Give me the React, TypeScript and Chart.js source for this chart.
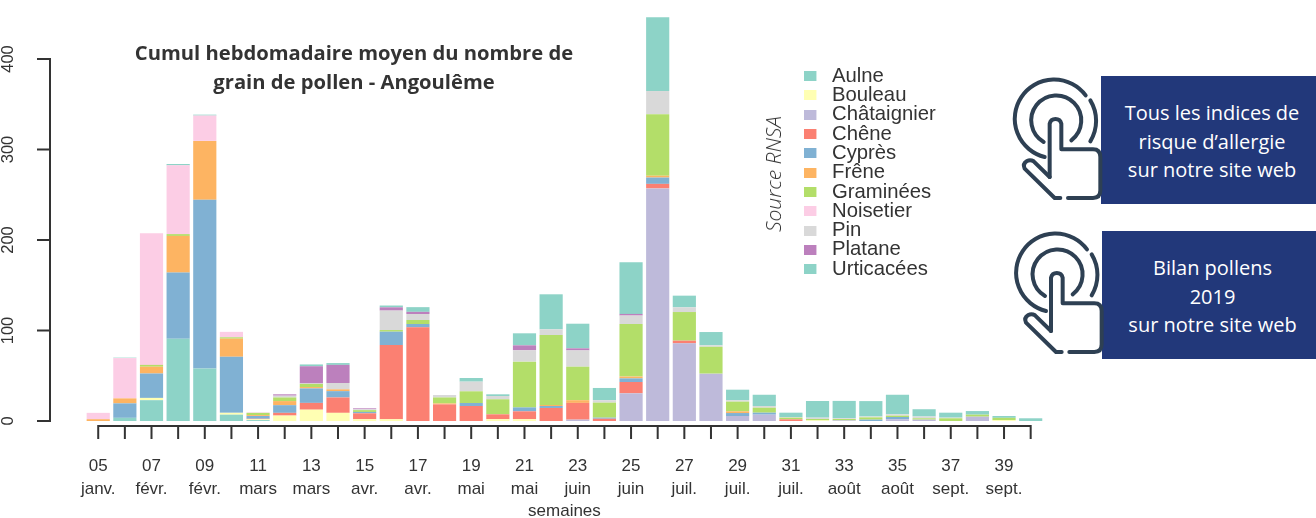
import React, { useEffect, useRef } from "react";
import { Chart, registerables } from "chart.js";

Chart.register(...registerables);

const weeks = ["05","06","07","08","09","10","11","12","13","14","15","16","17","18","19","20","21","22","23","24","25","26","27","28","29","30","31","32","33","34","35","36","37","38","39","40"];
const months = ["janv.","févr.","févr.","févr.","févr.","mars","mars","mars","mars","avr.","avr.","avr.","avr.","mai","mai","mai","mai","juin","juin","juin","juin","juil.","juil.","juil.","juil.","juil.","juil.","août","août","août","août","sept.","sept.","sept.","sept.","oct."];
const yTicks = [0, 100, 200, 300, 400];
const yMax = 446.4;
const chartTitle = ["Cumul hebdomadaire moyen du nombre de", "grain de pollen - Angoulême"];
const sourceText = "Source RNSA";
const xTitle = "semaines";

const aulne =      [0,  3.5, 23, 91, 58, 7,  1, 0,  0,  0, 0, 0,  0,  0, 0, 0, 0, 0, 0, 0, 0,  0,  0,  0,  0, 0, 0, 0, 0, 0, 0, 0, 0, 0, 0, 0];
const bouleau =    [0,  0,  2.5, 0,  0,  2,  1, 6, 12.5, 9, 2, 2,  0,  0, 0, 2, 2, 0, 0, 0, 0,  0,  0,  0,  0, 0, 0, 0.7, 0, 0, 0, 0, 0, 0, 1, 0];
const chataignier =[0,  0,  0,  0,  0,  0,  0, 0,  0,  0, 0, 0,  0,  0, 0, 0, 0, 0, 1.5, 0, 30.6, 257, 85.8, 52.3, 5.5, 7, 0, 0, 0.7, 0, 2, 1.5, 0, 4.8, 0, 0];
const chene =      [0,  0,  0,  0,  0,  0, 0.5, 3, 7.5, 17, 6.5, 82, 103.5, 18.4, 16.6, 5.4, 8.7, 14.4, 18.5, 2.5, 12.5, 5, 3, 0, 0, 0, 1.8, 0, 0, 0, 0, 0, 0, 0, 0, 0];
const cypres =     [0,  16, 27, 73, 186.5, 62, 3, 8.5, 16, 7, 1.5, 14.7, 3.7, 0, 3.3, 0, 4.3, 2.2, 0, 1.2, 4, 7, 0, 0, 3.3, 2.2, 0, 0, 0, 1.5, 2.4, 0, 0, 0, 0, 0];
const frene =      [2,  5.5, 7.5, 40.5, 65, 20, 1, 4.5, 1.5, 2, 0, 0, 0, 1, 0, 0, 0, 1.1, 3, 0, 2, 2, 0, 0, 1.9, 0, 0, 0, 0, 0, 0, 0, 0, 0, 0, 0];
const graminees =  [0,  0,  2,  2,  0, 1.5, 2.5, 4, 3.5, 0, 2, 1.8, 4.4, 6.6, 12.9, 16.6, 50.6, 77.3, 37, 16.6, 58, 68, 31.6, 29.7, 10.7, 5.5, 1.9, 1.5, 1.5, 2.5, 1.5, 1.5, 3, 2.2, 2.5, 0];
const noisetier =  [7, 44.5, 145.5, 76, 28, 6, 0.5, 0, 0, 0, 0, 0, 0, 0, 0, 0, 0, 0, 0, 0, 0, 0, 0, 0, 0, 0, 0, 0, 0, 0, 0, 0, 0, 0, 0, 0];
const pin =        [0,  0,  0,  0,  0,  0,  0, 2, 0.5, 7, 1, 21.5, 6.6, 2.7, 10.7, 3.6, 12.5, 6.3, 18, 2.7, 9.4, 25.6, 5.2, 1.6, 1.6, 1.9, 0.7, 1.5, 1, 1, 1.5, 2, 0.7, 0, 0, 0];
const platane =    [0,  0,  0,  0,  0,  0,  0, 1.5, 19, 20, 1, 3.6, 2.4, 0, 0, 0, 5.5, 0, 2.3, 0, 1.8, 0, 0, 0, 0, 0, 0, 0, 0, 0, 0, 0, 0, 0, 0, 0];
const urticacees = [0, 0.5, 0, 1.5, 1,  0,  0, 0,  2,  2, 0, 2, 5.2, 0, 4, 1.9, 13.3, 38.7, 27.2, 13.5, 57, 81.4, 12.9, 14.7, 11.6, 12.4, 4.8, 18.4, 19, 17, 21.6, 8, 5.5, 4, 2, 3];

const seriesNames = ["Aulne","Bouleau","Châtaignier","Chêne","Cyprès","Frêne","Graminées","Noisetier","Pin","Platane","Urticacées"];
const seriesValues = [aulne,bouleau,chataignier,chene,cypres,frene,graminees,noisetier,pin,platane,urticacees];
const seriesColors = ["#8DD3C7","#FFFFB3","#BEBADA","#FB8072","#80B1D3","#FDB462","#B3DE69","#FCCDE5","#D9D9D9","#BC80BD","#8DD3C7"];

const axisFont = "'Liberation Sans', Arial, sans-serif";
const inkColor = "#333333";

// Small legend swatch with extra blank room on its right side.
function swatch(color: string) {
  const c = document.createElement("canvas");
  c.width = 18;
  c.height = 10;
  const g = c.getContext("2d")!;
  g.fillStyle = color;
  g.fillRect(0, 0, 13, 10);
  return c;
}

const placeLegend = {
  id: "placeLegend",
  beforeDraw(chart: any) {
    const l = chart.legend;
    if (!l) return;
    l.left = 804;
    l.top = 67;
    l.right = 1000;
    l.bottom = 400;
  },
};

// R-style detached axes, drawn from the scales.
const detachedAxes = {
  id: "detachedAxes",
  afterDraw(chart: any) {
    const { ctx, scales } = chart;
    const x = scales.x;
    const y = scales.y;
    ctx.save();
    ctx.strokeStyle = inkColor;
    ctx.lineWidth = 2;
    ctx.beginPath();
    const yAxisX = 50;
    ctx.moveTo(yAxisX, y.getPixelForValue(yTicks[0]));
    ctx.lineTo(yAxisX, y.getPixelForValue(yTicks[yTicks.length - 1]));
    yTicks.forEach((v) => {
      const p = y.getPixelForValue(v);
      ctx.moveTo(yAxisX + 1, p);
      ctx.lineTo(yAxisX - 13, p);
    });
    const xAxisY = 426;
    const first = x.getPixelForValue(0);
    const last = x.getPixelForValue(weeks.length - 1);
    ctx.moveTo(first - 1, xAxisY);
    ctx.lineTo(last + 1, xAxisY);
    weeks.forEach((_, i) => {
      const p = x.getPixelForValue(i);
      ctx.moveTo(p, xAxisY);
      ctx.lineTo(p, xAxisY + 13);
    });
    ctx.stroke();
    ctx.restore();
  },
};

function Hand({ dx, dy }: { dx: number; dy: number }) {
  return (
    <g transform={`translate(${dx} ${dy})`} fill="none" stroke="#2E4053" strokeWidth={12} strokeLinecap="round" strokeLinejoin="round">
      <path d="M248 100 A118 118 0 1 0 125 285" />
      <path d="M262 115 A118 118 0 0 1 262 238" />
      <path d="M122 240 A75 75 0 1 1 205 235" />
      <path d="M140 345 L140 185 A18 18 0 0 1 175 185 L175 262 L270 262 Q292 262 292 285 L292 385 Q292 408 270 408 L195 408" />
      <path d="M172 408 L155 408 L65 320 Q58 305 72 297 Q82 292 92 298 L140 345" />
    </g>
  );
}

const panelStyle: React.CSSProperties = {
  position: "absolute",
  boxSizing: "border-box",
  paddingLeft: 7,
  paddingTop: 4,
  background: "#22387A",
  color: "#FFFFFF",
  fontFamily: "'Open Sans', sans-serif",
  fontSize: 20,
  lineHeight: "28.7px",
  textAlign: "center",
  display: "flex",
  flexDirection: "column",
  justifyContent: "center",
};

export default function App() {
  const ref = useRef<HTMLCanvasElement>(null);

  useEffect(() => {
    document.body.style.margin = "0";
    const chart = new Chart(ref.current!, {
      type: "bar",
      data: {
        labels: weeks,
        datasets: seriesNames.map((name, i) => ({
          label: name,
          data: seriesValues[i],
          backgroundColor: seriesColors[i],
          borderWidth: 0,
          barPercentage: 0.87,
          categoryPercentage: 1,
        })),
      },
      options: {
        responsive: false,
        animation: false,
        layout: { padding: { top: 17, right: 272, left: 0, bottom: 0 } },
        scales: {
          x: {
            stacked: true,
            grid: { display: false },
            border: { display: false },
            ticks: {
              autoSkip: false,
              maxRotation: 0,
              minRotation: 0,
              padding: 26,
              color: inkColor,
              font: { family: axisFont, size: 17, lineHeight: 1.35 },
              callback: (_v: any, i: number) => (i % 2 === 0 ? [weeks[i], months[i]] : ""),
            },
            title: {
              display: true,
              text: xTitle,
              color: inkColor,
              font: { family: axisFont, size: 17 },
              padding: { top: 0, bottom: -4 },
            },
            afterFit: (s: any) => {
              s.height = 97;
            },
          },
          y: {
            stacked: true,
            min: 0,
            max: yMax,
            grid: { display: false },
            border: { display: false },
            afterBuildTicks: (s: any) => {
              s.ticks = yTicks.map((value) => ({ value }));
            },
            ticks: {
              minRotation: 90,
              maxRotation: 90,
              crossAlign: "center",
              padding: 54.7,
              color: inkColor,
              font: { family: axisFont, size: 16.5 },
            },
            afterFit: (s: any) => {
              s.width = 84.9;
              s.paddingTop = 0;
              s.paddingBottom = 0;
            },
          },
        },
        plugins: {
          title: { display: false },
          tooltip: { enabled: false },
          legend: {
            position: "chartArea",
            align: "start",
            labels: {
              usePointStyle: true,
              pointStyleWidth: 18.85,
              padding: -1,
              color: inkColor,
              font: { family: axisFont, size: 20.3 },
              generateLabels: (c: any) =>
                Chart.defaults.plugins.legend.labels.generateLabels(c).map((item: any, i: number) => ({
                  ...item,
                  pointStyle: swatch(seriesColors[i]),
                })),
            },
          },
        },
      } as any,
      plugins: [placeLegend, detachedAxes],
    });
    return () => chart.destroy();
  }, []);

  return (
    <div style={{ position: "absolute", left: 0, top: 0, width: 1316, height: 518, overflow: "hidden", background: "#fff" }}>
      <canvas ref={ref} width={1316} height={518} style={{ display: "block", filter: "blur(0.4px)" }} />
      <div
        style={{
          position: "absolute",
          left: 104,
          top: 38,
          width: 500,
          textAlign: "center",
          fontFamily: "'Open Sans', sans-serif",
          fontWeight: 700,
          fontSize: 20.2,
          lineHeight: "29px",
          color: inkColor,
        }}
      >
        {chartTitle.map((t) => (
          <div key={t}>{t}</div>
        ))}
      </div>
      <div
        style={{
          position: "absolute",
          left: 773,
          top: 174,
          transform: "translate(-50%, -50%) rotate(-90deg)",
          whiteSpace: "nowrap",
          fontFamily: "'Open Sans', sans-serif",
          fontStyle: "italic",
          fontWeight: 300,
          fontSize: 21,
          color: inkColor,
        }}
      >
        {sourceText}
      </div>
      <div style={{ ...panelStyle, left: 1101, top: 76, width: 215, height: 128 }}>
        <div>Tous les indices de</div>
        <div>risque d’allergie</div>
        <div>sur notre site web</div>
      </div>
      <div style={{ ...panelStyle, left: 1102, top: 231, width: 214, height: 128 }}>
        <div>Bilan pollens</div>
        <div>2019</div>
        <div>sur notre site web</div>
      </div>
      <svg width={316} height={310} viewBox="0 0 948 930" style={{ position: "absolute", left: 1000, top: 60 }}>
        <Hand dx={9} dy={6} />
        <Hand dx={13} dy={468} />
      </svg>
    </div>
  );
}
